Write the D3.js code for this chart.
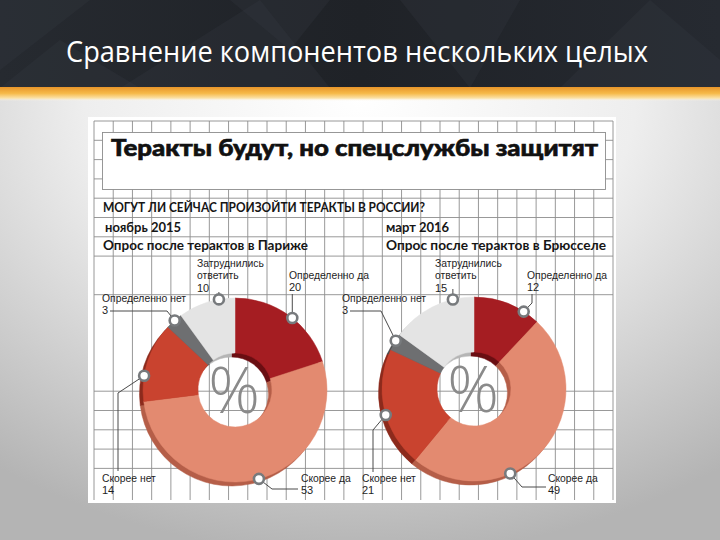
<!DOCTYPE html>
<html><head><meta charset="utf-8">
<script src="https://cdn.jsdelivr.net/npm/d3@7"></script>
<style>body{margin:0;background:#fff}svg{display:block}</style>
</head><body>
<svg id="c" width="720" height="540"></svg>
<script>
// ---------- data ----------
const slideTitle = "Сравнение компонентов нескольких целых";
const chartTitle = "Теракты будут, но спецслужбы защитят";
const question = "МОГУТ ЛИ СЕЙЧАС ПРОИЗОЙТИ ТЕРАКТЫ В РОССИИ?";
const periods = ["ноябрь 2015", "март 2016"];
const surveys = ["Опрос после терактов в Париже", "Опрос после терактов в Брюсселе"];
const categories = ["Определенно да", "Скорее да", "Скорее нет", "Определенно нет", "Затруднились ответить"];
const values2015 = [20, 53, 14, 3, 10];
const values2016 = [12, 49, 21, 3, 15];
const centerSymbol = "%";

// ---------- styles / layout ----------
const colors = ["#a51d22", "#e38a70", "#c9432f", "#6e6f71", "#e4e4e4"];
const sideColors = ["#6a0e12", "#b55e48", "#8c2a1c", "#47484a", "#b5b5b5"];
const labelFont = "'Liberation Sans Narrow','Liberation Sans',Arial,sans-serif";

const donuts = [
  { values: values2015, cx: 235, cy: 390, period: periods[0], survey: surveys[0], px: 105, sx: 103, sLen: 205,
    labels: [
      { f: 0.535, tx: 289, ty: 279, leader: m => [[m[0], 294]] },
      { f: 0.487, tx: 301, ty: 482, leader: m => [[272, 489], [298, 489]] },
      { f: 0.32,  tx: 102, ty: 482, leader: m => [[118, 393], [118, 471]] },
      { f: 0.54,  tx: 102, ty: 302, leader: m => [[167, 311], [110, 311]] },
      { f: 0.72,  tx: 197, ty: 267, leader: m => [[m[0], 292]] }
    ]},
  { values: values2016, cx: 474, cy: 389, period: periods[1], survey: surveys[1], px: 386, sx: 386, sLen: 220,
    labels: [
      { f: 0.757, tx: 527, ty: 279, leader: m => [[532, 303], [532, 294]] },
      { f: 0.644, tx: 548, ty: 482, leader: m => [[522, 487], [546, 487]] },
      { f: 0.45,  tx: 362, ty: 482, leader: m => [[373, 430], [373, 472]] },
      { f: 0.6,   tx: 342, ty: 302, leader: m => [[381, 311], [350, 311]] },
      { f: 0.754, tx: 435, ty: 267, leader: m => [[m[0], 289]] }
    ]}
];

const svg = d3.select("#c");
const defs = svg.append("defs");

// ---------- slide background ----------
const bg = defs.append("radialGradient").attr("id", "bg").attr("cx", "50%").attr("cy", "18%").attr("r", "85%");
bg.append("stop").attr("offset", "0").attr("stop-color", "#ffffff");
bg.append("stop").attr("offset", "0.45").attr("stop-color", "#eeeeee");
bg.append("stop").attr("offset", "1").attr("stop-color", "#b4b4b4");
svg.append("rect").attr("width", 720).attr("height", 540).attr("fill", "url(#bg)");

const hd = defs.append("linearGradient").attr("id", "hd").attr("x1", 0).attr("x2", 1).attr("y1", 0).attr("y2", 0);
hd.append("stop").attr("offset", 0).attr("stop-color", "#262a30");
hd.append("stop").attr("offset", 0.5).attr("stop-color", "#1f2227");
hd.append("stop").attr("offset", 1).attr("stop-color", "#262a31");
svg.append("rect").attr("width", 720).attr("height", 88).attr("fill", "url(#hd)");
const tris = [
  [[0,0],[90,0],[0,70]], [[120,88],[260,0],[330,88]], [[400,0],[520,0],[470,88]],
  [[560,88],[650,0],[720,60],[720,88]], [[0,88],[60,40],[140,88]], [[230,0],[330,0],[290,50]]
];
svg.append("g").selectAll("path").data(tris).join("path")
  .attr("d", d => "M" + d.join("L") + "Z")
  .attr("fill", "#3a3f47").attr("opacity", 0.22);

const st = defs.append("linearGradient").attr("id", "st").attr("x1", 0).attr("x2", 0).attr("y1", 0).attr("y2", 1);
st.append("stop").attr("offset", 0).attr("stop-color", "#e8952a");
st.append("stop").attr("offset", 0.45).attr("stop-color", "#f6b948");
st.append("stop").attr("offset", 0.8).attr("stop-color", "#fbe2a8");
st.append("stop").attr("offset", 1).attr("stop-color", "#fdf6ea").attr("stop-opacity", 0);
svg.append("rect").attr("y", 87).attr("width", 720).attr("height", 14).attr("fill", "url(#st)");

svg.append("text").attr("x", 66).attr("y", 62)
  .attr("textLength", 582).attr("lengthAdjust", "spacingAndGlyphs")
  .attr("font-family", "'Open Sans',sans-serif").attr("font-size", 30).attr("fill", "#ffffff")
  .text(slideTitle);

// ---------- newspaper panel ----------
svg.append("rect").attr("x", 88).attr("y", 117).attr("width", 528).attr("height", 386).attr("fill", "#ffffff");

const gx = d3.scaleLinear().domain([0, 27]).range([94, 613]);
const gy = d3.scaleLinear().domain([0, 1]).range([121, 140.3]);
const grid = svg.append("g").attr("stroke", "#8d8d8d").attr("stroke-width", 0.9);
grid.selectAll("line.v").data(d3.range(28)).join("line").attr("class", "v")
  .attr("x1", d => gx(d)).attr("x2", d => gx(d)).attr("y1", 121).attr("y2", 500);
const hRows = [0, 1, 2, 3, 4, 5, 6, 7, 9, 14, 15, 16, 17, 18];
grid.selectAll("line.h").data(hRows).join("line").attr("class", "h")
  .attr("x1", 94).attr("x2", 613).attr("y1", d => gy(d)).attr("y2", d => gy(d));

svg.append("rect").attr("x", 102.5).attr("y", 132.5).attr("width", 503).attr("height", 57)
  .attr("fill", "#ffffff").attr("stroke", "#8d8d8d").attr("stroke-width", 0.9);
svg.append("text").attr("x", 111).attr("y", 156)
  .attr("textLength", 487).attr("lengthAdjust", "spacingAndGlyphs")
  .attr("font-family", "Lato,'Liberation Sans',sans-serif").attr("font-weight", 900)
  .attr("font-size", 22).attr("fill", "#111111").attr("stroke", "#111111").attr("stroke-width", 0.6)
  .text(chartTitle);

const head = svg.append("g").attr("font-family", "Lato,'Liberation Sans',sans-serif").attr("fill", "#161616");
head.append("text").attr("x", 103).attr("y", 212).attr("font-size", 12.5).attr("font-weight", 700)
  .attr("textLength", 322).attr("lengthAdjust", "spacingAndGlyphs").text(question);
donuts.forEach(d => {
  head.append("text").attr("x", d.px).attr("y", 232).attr("font-size", 13).attr("font-weight", 700).text(d.period);
  head.append("text").attr("x", d.sx).attr("y", 250).attr("font-size", 12.5).attr("font-weight", 700)
    .attr("textLength", d.sLen).attr("lengthAdjust", "spacingAndGlyphs").text(d.survey);
});

// ---------- donuts ----------
const rOuter = 92, rInner = 37;
const pie = d3.pie().sort(null).value(v => v).startAngle(0).endAngle(2 * Math.PI);
const arc = d3.arc().innerRadius(rInner).outerRadius(rOuter);

donuts.forEach(d => {
  const arcs = pie(d.values);
  svg.append("g").attr("transform", `translate(${d.cx - 3.5},${d.cy + 4})`)
    .selectAll("path").data(arcs).join("path")
    .attr("d", arc).attr("fill", (a, i) => sideColors[i]).attr("stroke", (a, i) => sideColors[i]).attr("stroke-width", 0.5);
  svg.append("g").attr("transform", `translate(${d.cx},${d.cy})`)
    .selectAll("path").data(arcs).join("path")
    .attr("d", arc).attr("fill", (a, i) => colors[i]).attr("stroke", (a, i) => colors[i]).attr("stroke-width", 0.5);
  svg.append("text").attr("x", d.cx - 1).attr("y", d.cy + 23).attr("text-anchor", "middle")
    .attr("font-family", "'Open Sans',sans-serif").attr("font-weight", 300).attr("font-size", 64)
    .attr("fill", "#8a8a8a").text(centerSymbol);

  const lg = svg.append("g");
  arcs.forEach((a, i) => {
    const L = d.labels[i];
    const ang = a.startAngle + L.f * (a.endAngle - a.startAngle);
    const m = [d.cx + rOuter * Math.sin(ang), d.cy - rOuter * Math.cos(ang)];
    const pts = [m].concat(L.leader(m));
    lg.append("path").attr("d", d3.line()(pts)).attr("fill", "none").attr("stroke", "#4a4a4a").attr("stroke-width", 1);
    lg.append("circle").attr("cx", m[0]).attr("cy", m[1]).attr("r", 5)
      .attr("fill", "#ffffff").attr("stroke", "#777a7d").attr("stroke-width", 2.6);
    const lines = categories[i].replace("Затруднились ", "Затруднились\n").split("\n").concat([String(d.values[i])]);
    lines.forEach((s, k) => {
      const t = lg.append("text").attr("x", L.tx).attr("y", L.ty + k * 12.3)
        .attr("font-family", labelFont).attr("font-size", 11).attr("fill", "#1e1e1e").text(s);
      const w = t.node().getComputedTextLength();
      if (s.length > 3) t.attr("textLength", w * 0.94).attr("lengthAdjust", "spacingAndGlyphs");
    });
  });
});
</script>
</body></html>
